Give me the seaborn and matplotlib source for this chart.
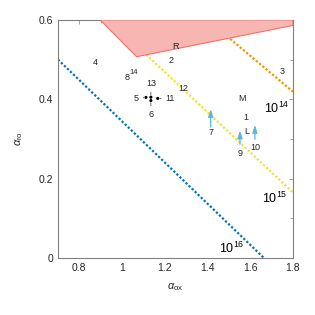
import matplotlib
matplotlib.use("Agg")
import matplotlib.pyplot as plt
import seaborn as sns
import pandas as pd

# iso-lines (endpoints)
blue_x = [0.70, 1.664]
blue_y = [0.50, 0.0]
yellow_x = [0.94, 1.80]
yellow_y = [0.60, 0.165]
orange_x = [1.40, 1.80]
orange_y = [0.60, 0.419]

# excluded region (pink)
region_x = [0.897, 1.068, 1.80, 1.80]
region_y = [0.60, 0.507, 0.586, 0.60]

# plain labels
lab_text = ["R", "2", "4", "3", "8", "12", "M", "1", "L"]
lab_x = [1.252, 1.229, 0.875, 1.750, 1.022, 1.287, 1.560, 1.578, 1.583]
lab_y = [0.533, 0.497, 0.493, 0.470, 0.455, 0.427, 0.403, 0.354, 0.318]

# cluster of points with leader lines
pt_name = ["5", "13", "6", "11"]
pt_x = [1.112, 1.135, 1.135, 1.167]
pt_y = [0.4046, 0.4051, 0.3966, 0.402]
pt_lx = [1.068, 1.135, 1.135, 1.224]
pt_ly = [0.4016, 0.439, 0.362, 0.4016]

# lower limits (arrows)
arr_name = ["7", "9", "10"]
arr_x = [1.415, 1.552, 1.622]
arr_y0 = [0.330, 0.287, 0.299]
arr_y1 = [0.375, 0.321, 0.335]
arr_ly = [0.316, 0.262, 0.278]

# iso-line labels
iso_text = ["$10^{14}$", "$10^{15}$", "$10^{16}$"]
iso_x = [1.725, 1.716, 1.513]
iso_y = [0.377, 0.150, 0.025]

sns.set_style("white")
plt.rcParams["font.family"] = ["Liberation Sans", "DejaVu Sans"]
plt.rcParams["mathtext.fontset"] = "custom"
plt.rcParams["mathtext.rm"] = "Liberation Sans"
plt.rcParams["mathtext.it"] = "Liberation Sans:italic"

fig = plt.figure(figsize=(3.15, 3.15), dpi=100)
ax = fig.add_axes([0.184, 0.181, 0.746, 0.756])

dot = (0, (1, 0.9))
sns.lineplot(x=blue_x, y=blue_y, ax=ax, color="#0072bd", lw=1.6, linestyle=dot, zorder=2)
sns.lineplot(x=yellow_x, y=yellow_y, ax=ax, color="#f2e234", lw=1.6, linestyle=dot, zorder=2)
sns.lineplot(x=orange_x, y=orange_y, ax=ax, color="#e59a00", lw=1.6, linestyle=dot, zorder=2)

ax.fill(region_x, region_y, facecolor="#f7b6b2", edgecolor="#e8736c", lw=0.8, zorder=3)

tc = "#262626"
for t, x, y in zip(lab_text, lab_x, lab_y):
    ax.text(x, y, t, fontsize=6.5, color=tc, ha="center", va="center", zorder=5)
# "14" sits tucked up against "8" like a superscript
ax.text(1.037, 0.459, "14", fontsize=5.5, color=tc, ha="left", va="bottom", zorder=5)

sns.scatterplot(x=pt_x, y=pt_y, ax=ax, color="black", s=5, edgecolor="none", zorder=5)
for t, x, y, lx, ly in zip(pt_name, pt_x, pt_y, pt_lx, pt_ly):
    ax.annotate(t, xy=(x, y), xytext=(lx, ly), fontsize=6.5, color=tc,
                ha="center", va="center",
                arrowprops=dict(arrowstyle="-", color="#333333", lw=0.5,
                                shrinkA=0.5, shrinkB=1.5), zorder=5)

for t, x, y0, y1, ly in zip(arr_name, arr_x, arr_y0, arr_y1, arr_ly):
    ax.annotate("", xy=(x, y1), xytext=(x, y0),
                arrowprops=dict(arrowstyle="-|>,head_length=0.45,head_width=0.15",
                                color="#5cb3e6", lw=0.9, shrinkA=0, shrinkB=0), zorder=6)
    ax.text(x, ly, t, fontsize=6.5, color=tc, ha="center", va="center", zorder=5)

for t, x, y in zip(iso_text, iso_x, iso_y):
    ax.text(x, y, t, fontsize=9, color="black", ha="center", va="center", zorder=5)

ax.set_xlim(0.7, 1.8)
ax.set_ylim(0, 0.6)
ax.set_xticks([0.8, 1.0, 1.2, 1.4, 1.6, 1.8])
ax.set_xticklabels(["0.8", "1", "1.2", "1.4", "1.6", "1.8"])
ax.set_yticks([0, 0.2, 0.4, 0.6])
ax.set_yticklabels(["0", "0.2", "0.4", "0.6"])
ax.set_xticks([0.7, 0.9, 1.1, 1.3, 1.5, 1.7], minor=True)
ax.set_yticks([0.1, 0.3, 0.5], minor=True)
ax.tick_params(which="both", direction="in", top=True, right=True,
               color="#808080", labelsize=7.5, labelcolor=tc, width=0.5)
ax.tick_params(which="major", length=3)
ax.tick_params(which="minor", length=2)
for s in ax.spines.values():
    s.set_color("#808080")
    s.set_linewidth(0.8)

ax.set_xlabel(r"$\alpha_{\rm ox}$", fontsize=8, color=tc, labelpad=6)
ax.set_ylabel(r"$\alpha_{\rm ro}$", fontsize=8, color=tc, labelpad=10)

fig.savefig("out.png", dpi=100)
